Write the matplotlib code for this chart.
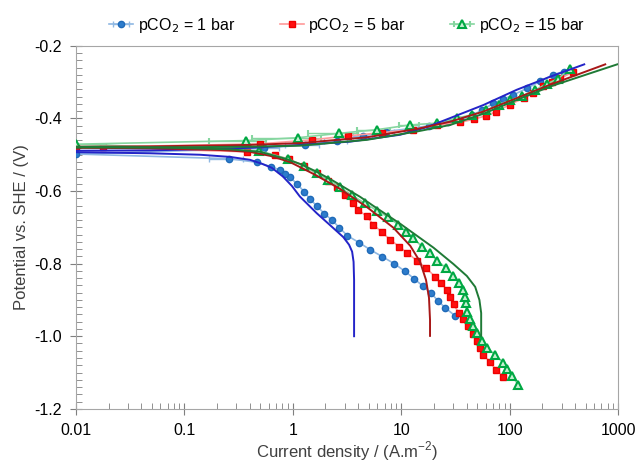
import matplotlib.pyplot as plt
from matplotlib.ticker import MultipleLocator, LogLocator, NullFormatter, FixedFormatter, FixedLocator

plt.rcParams['font.family'] = ['Liberation Sans', 'DejaVu Sans']

# experimental data: current density (A/m2) and potential (V vs SHE), cathodic end -> anodic end
i_1bar = [31.1, 25.5, 21.7, 18.8, 15.8, 13.2, 10.8, 8.6, 6.70, 5.19, 4.08, 3.18, 2.69, 2.29, 1.95,
          1.66, 1.45, 1.28, 1.10, 0.94, 0.85, 0.76, 0.63, 0.47, 0.26, 0.01,
          0.54, 1.30, 2.54, 4.47, 7.3, 12.0, 18.0, 27.2, 34.8, 44.7, 55.2, 70.8, 87.5, 108, 144, 190, 253, 313]
E_1bar = [-0.943, -0.922, -0.902, -0.881, -0.862, -0.842, -0.821, -0.800, -0.781, -0.762, -0.742, -0.723,
          -0.701, -0.680, -0.662, -0.641, -0.623, -0.603, -0.581, -0.562, -0.553, -0.542, -0.533, -0.521,
          -0.511, -0.498,
          -0.482, -0.473, -0.461, -0.448, -0.436, -0.428, -0.420, -0.411, -0.404, -0.391, -0.378, -0.358,
          -0.347, -0.335, -0.317, -0.298, -0.279, -0.271]
err_1bar = [0] * 24 + [0.09, 0, 0.2, 0.45, 0.6, 0.9, 1.2] + [0] * 13

i_5bar = [87.5, 74.9, 65.9, 57.2, 53.5, 50.4, 45.7, 41.0, 36.9, 33.7, 30.3, 28.2, 26.3, 23.3, 20.5, 16.9,
          14.0, 11.4, 9.55, 7.88, 6.61, 5.53, 4.81, 4.02, 3.61, 3.05, 2.54, 2.12, 1.66, 1.26, 0.92, 0.69,
          0.38, 0.0176, 0.01,
          0.50, 1.49, 3.25, 6.7, 12.9, 21.2, 34.8, 46.6, 59.9, 75.1, 100, 134, 165, 203, 245, 292, 380]
E_5bar = [-1.111, -1.093, -1.072, -1.051, -1.032, -1.012, -0.993, -0.973, -0.953, -0.935, -0.912, -0.892,
          -0.872, -0.854, -0.836, -0.812, -0.792, -0.771, -0.753, -0.734, -0.713, -0.693, -0.670, -0.652,
          -0.633, -0.612, -0.590, -0.572, -0.551, -0.531, -0.512, -0.502, -0.492, -0.480, -0.480,
          -0.470, -0.459, -0.448, -0.439, -0.431, -0.418, -0.411, -0.402, -0.393, -0.381, -0.362, -0.344,
          -0.330, -0.312, -0.300, -0.289, -0.273]

i_15bar = [120, 105, 95, 86.9, 73.3, 62.3, 55.3, 50.4, 46.3, 43.1, 40.3, 39.4, 38.8, 37.4, 34.4, 30.2,
           25.9, 21.5, 18.2, 15.5, 12.9, 11.1, 9.4, 7.6, 5.98, 4.63, 3.52, 2.72, 2.12, 1.66, 1.28, 0.91,
           0.49, 0.01,
           0.37, 1.12, 2.69, 5.94, 12.0, 21.2, 32.5, 45, 60, 80, 100, 130, 170, 220, 280, 360]
E_15bar = [-1.134, -1.110, -1.090, -1.073, -1.051, -1.033, -1.012, -0.991, -0.971, -0.953, -0.932, -0.909,
           -0.891, -0.872, -0.854, -0.834, -0.812, -0.792, -0.771, -0.753, -0.730, -0.712, -0.693, -0.672,
           -0.654, -0.634, -0.612, -0.590, -0.569, -0.551, -0.532, -0.512, -0.489, -0.471,
           -0.461, -0.453, -0.441, -0.431, -0.418, -0.413, -0.399, -0.390, -0.378, -0.362, -0.350, -0.338,
           -0.322, -0.305, -0.290, -0.263]
err_15bar = [0] * 34 + [0.2, 0.7, 1.3, 2.0, 2.5] + [0] * 11

# model curves
mi_1_cat = [0.01, 0.048, 0.139, 0.264, 0.403, 0.52, 0.64, 0.81, 0.98, 1.16, 1.66, 2.36, 2.92, 3.30, 3.52, 3.63, 3.67, 3.67]
mE_1_cat = [-0.493, -0.496, -0.500, -0.506, -0.514, -0.525, -0.536, -0.560, -0.586, -0.615, -0.661, -0.702,
            -0.727, -0.748, -0.767, -0.795, -0.845, -1.0]
mi_1_an = [0.01, 0.048, 0.139, 0.403, 1.16, 3.37, 9.75, 17.2, 28.2, 57.2, 116, 236, 486]
mE_1_an = [-0.489, -0.488, -0.485, -0.481, -0.473, -0.464, -0.445, -0.424, -0.399, -0.363, -0.321, -0.285, -0.251]

mi_5_cat = [0.01, 0.048, 0.213, 0.403, 0.616, 0.94, 1.60, 2.72, 4.81, 8.45, 12.1, 14.9, 16.9, 18.0, 18.4, 18.4]
mE_5_cat = [-0.481, -0.482, -0.487, -0.492, -0.503, -0.520, -0.555, -0.594, -0.644, -0.701, -0.751, -0.795,
            -0.845, -0.894, -0.955, -0.999]
mi_5_an = [0.01, 0.048, 0.403, 1.16, 4.81, 13.9, 28.2, 57.2, 116, 236, 759]
mE_5_an = [-0.478, -0.477, -0.473, -0.468, -0.452, -0.429, -0.409, -0.381, -0.344, -0.307, -0.251]

mi_15_cat = [0.01, 0.060, 0.264, 0.50, 0.85, 1.16, 1.66, 2.36, 4.17, 5.53, 9.75, 19.8, 30.2, 40.2, 48.0, 52.5, 54.5, 54.5]
mE_15_cat = [-0.478, -0.480, -0.485, -0.492, -0.511, -0.525, -0.547, -0.572, -0.616, -0.641, -0.690, -0.756,
             -0.801, -0.834, -0.864, -0.900, -0.936, -0.999]
mi_15_an = [0.01, 0.048, 0.403, 1.16, 4.81, 13.9, 28.2, 57.2, 116, 236, 979]
mE_15_an = [-0.480, -0.480, -0.478, -0.475, -0.459, -0.436, -0.418, -0.387, -0.349, -0.312, -0.251]

x_ticks = [0.01, 0.1, 1, 10, 100, 1000]
x_labels = ['0.01', '0.1', '1', '10', '100', '1000']

fig = plt.figure(figsize=(6.38, 4.63), dpi=100)
ax = fig.add_axes([0.119, 0.117, 0.850, 0.784])

ax.errorbar(i_1bar, E_1bar, xerr=err_1bar, color='#8fb8e3', lw=1.2, marker='o', ms=4.5,
            mfc='#2d7ccc', mec='#1f6ab8', mew=1, ecolor='#8fb8e3', elinewidth=1, capsize=2,
            label='pCO$_2$ = 1 bar', zorder=3)
ax.errorbar(i_5bar, E_5bar, color='#ff9a9a', lw=1.2, marker='s', ms=5,
            mfc='#ff1010', mec='#ee0000', mew=1, label='pCO$_2$ = 5 bar', zorder=3)
ax.errorbar(i_15bar, E_15bar, xerr=err_15bar, color='#86d6a0', lw=1.2, marker='^', ms=5.5,
            mfc='#c8f0d2', mec='#00a843', mew=1.5, ecolor='#86d6a0', elinewidth=1, capsize=2,
            label='pCO$_2$ = 15 bar', zorder=3)

ax.plot(mi_1_cat, mE_1_cat, color='#2424c8', lw=1.4, zorder=4)
ax.plot(mi_1_an, mE_1_an, color='#2424c8', lw=1.4, zorder=4)
ax.plot(mi_5_cat, mE_5_cat, color='#a81818', lw=1.4, zorder=4)
ax.plot(mi_5_an, mE_5_an, color='#a81818', lw=1.4, zorder=4)
ax.plot(mi_15_cat, mE_15_cat, color='#1f7a36', lw=1.4, zorder=4)
ax.plot(mi_15_an, mE_15_an, color='#1f7a36', lw=1.4, zorder=4)

ax.set_xscale('log')
ax.set_xlim(0.01, 1000)
ax.set_ylim(-1.2, -0.2)
ax.xaxis.set_major_locator(FixedLocator(x_ticks))
ax.xaxis.set_major_formatter(FixedFormatter(x_labels))
ax.xaxis.set_minor_locator(LogLocator(base=10, subs=range(2, 10)))
ax.xaxis.set_minor_formatter(NullFormatter())
ax.yaxis.set_major_locator(MultipleLocator(0.2))
ax.yaxis.set_minor_locator(MultipleLocator(0.02))
ax.yaxis.set_major_formatter(plt.FuncFormatter(lambda v, p: f'{v:.1f}'))

for s in ax.spines.values():
    s.set_color('#a6a6a6')
ax.tick_params(which='major', direction='inout', length=8, color='#7f7f7f', labelsize=11.5, pad=6)
ax.tick_params(which='minor', direction='in', length=4, color='#7f7f7f')

ax.set_xlabel('Current density / (A.m$^{\\mathregular{-2}}$)', fontsize=12, color='#404040', labelpad=1)
ax.set_ylabel('Potential vs. SHE / (V)', fontsize=12, color='#404040')

ax.legend(loc='lower center', bbox_to_anchor=(0.5, 1.0), ncol=3, frameon=False, fontsize=11.5,
          handlelength=1.5, columnspacing=2.8, handletextpad=0.3, borderaxespad=0.3)

fig.savefig('out.png', dpi=100)
